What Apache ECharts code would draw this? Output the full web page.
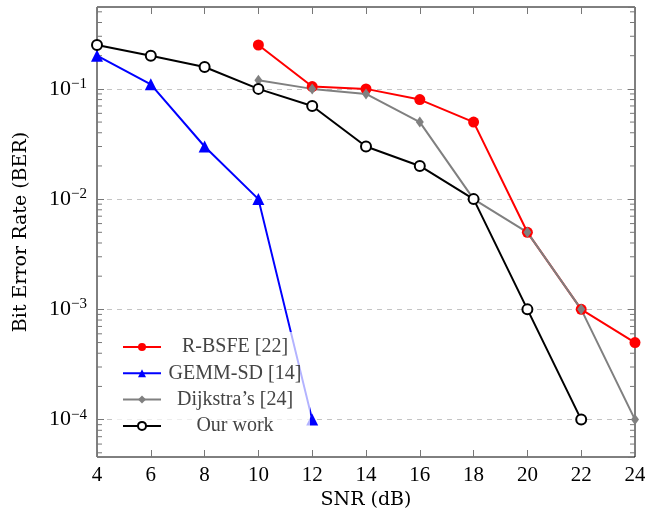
<!DOCTYPE html>
<html>
<head>
<meta charset="utf-8">
<script src="https://cdn.jsdelivr.net/npm/echarts@6/dist/echarts.min.js"></script>
<style>
  html, body { margin: 0; padding: 0; background: #fff; }
  #chart { width: 645px; height: 514px; }
</style>
</head>
<body>
<div id="chart"></div>
<script>
// SNR sweep (dB) and bit error rates per scheme
const snrTicks = [4, 6, 8, 10, 12, 14, 16, 18, 20, 22, 24];

const rbsfeSnr = [10, 12, 14, 16, 18, 20, 22, 24];
const rbsfeBer = [0.25, 0.105, 0.1, 0.08, 0.05, 0.005, 0.001, 0.0005];

const gemmSnr = [4, 6, 8, 10, 12];
const gemmBer = [0.2, 0.11, 0.03, 0.01, 0.0001];

const dijkstraSnr = [10, 12, 14, 16, 18, 20, 22, 24];
const dijkstraBer = [0.12, 0.1, 0.09, 0.05, 0.01, 0.005, 0.001, 0.0001];

const oursSnr = [4, 6, 8, 10, 12, 14, 16, 18, 20, 22];
const oursBer = [0.25, 0.2, 0.158, 0.1, 0.07, 0.03, 0.02, 0.01, 0.001, 0.0001];

const seriesNames = ['R-BSFE [22]', 'GEMM-SD [14]', "Dijkstra\u2019s [24]", 'Our work'];

// axis range
const xMin = 4, xMax = 24;
const yMin = 4.58e-5, yMax = 0.553;

// log minor tick values (2..9 in each decade inside the range)
const minorTickValues = [];
for (let d = -5; d <= 0; d++) {
  for (let m = 2; m <= 9; m++) {
    const v = m * Math.pow(10, d);
    if (v > yMin && v < yMax) minorTickValues.push(v);
  }
}

const FONT = '"Liberation Serif", "DejaVu Serif", serif';
const TITLE_FONT = '"DejaVu Serif", "Liberation Serif", serif';
const zip = (xs, ys) => xs.map((x, i) => [x, ys[i]]);

function logLabel(v) {
  const e = Math.round(Math.log10(v));
  const s = String(e).replace('-', '\u2212');
  return '{b|10}{s|' + s + '}';
}

const chart = echarts.init(document.getElementById('chart'), null, { renderer: 'canvas' });

const xAxisBase = {
  type: 'value', min: xMin, max: xMax, interval: 2,
  axisLine: { show: false },
  axisTick: { show: true, inside: true, length: 7, lineStyle: { color: '#777', width: 1 } },
  splitLine: { show: false }
};
const yAxisBase = {
  type: 'log', logBase: 10, min: yMin, max: yMax,
  axisLine: { show: false },
  axisTick: { show: true, inside: true, length: 7, lineStyle: { color: '#777', width: 1 } }
};

const option = {
  backgroundColor: '#fff',
  animation: false,
  grid: {
    left: 97, right: 10, top: 7, bottom: 57,
    outerBoundsMode: 'none', containLabel: false,
    show: true, borderColor: '#000', borderWidth: 1, backgroundColor: 'transparent'
  },
  xAxis: [
    Object.assign({}, xAxisBase, {
      position: 'bottom',
      name: 'SNR (dB)', nameLocation: 'middle', nameGap: 34,
      nameTextStyle: { fontFamily: TITLE_FONT, fontSize: 19, color: '#000' },
      axisLabel: { fontFamily: FONT, fontSize: 21, color: '#000', margin: 8 }
    }),
    Object.assign({}, xAxisBase, { position: 'top', axisLabel: { show: false } })
  ],
  yAxis: [
    Object.assign({}, yAxisBase, {
      position: 'left',
      name: 'Bit Error Rate (BER)', nameLocation: 'middle', nameGap: 66, nameRotate: 90,
      nameTextStyle: { fontFamily: TITLE_FONT, fontSize: 19, color: '#000' },
      axisLabel: {
        showMinLabel: false, showMaxLabel: false, margin: 10,
        formatter: logLabel,
        rich: {
          b: { fontFamily: FONT, fontSize: 22, color: '#000' },
          s: { fontFamily: FONT, fontSize: 15, color: '#000', verticalAlign: 'bottom', padding: [0, 0, 10, 0] }
        }
      },
      splitLine: {
        show: true, showMinLine: false, showMaxLine: false,
        lineStyle: { color: '#c4c4c4', type: [5, 5], width: 1 }
      }
    }),
    Object.assign({}, yAxisBase, {
      position: 'right', axisLabel: { show: false }, splitLine: { show: false }
    })
  ],
  legend: {
    data: seriesNames,
    orient: 'vertical',
    left: 117, top: 332,
    padding: [5, 6, 5, 5],
    itemGap: 6.3,
    itemWidth: 38, itemHeight: 10,
    backgroundColor: 'rgba(255,255,255,0.7)',
    borderWidth: 0,
    formatter: name => '{t|' + name + '}',
    textStyle: {
      rich: {
        t: { width: 138, align: 'center', fontFamily: FONT, fontSize: 20, lineHeight: 21, color: '#444' }
      }
    }
  },
  series: [
    {
      type: 'custom', name: 'minor-ticks', silent: true, z: 1,
      xAxisIndex: 0, yAxisIndex: 0,
      data: minorTickValues.map(v => [xMin, v]),
      renderItem: function (params, api) {
        const v = api.value(1);
        const l = api.coord([xMin, v]);
        const r = api.coord([xMax, v]);
        const style = { stroke: '#777', lineWidth: 1 };
        return {
          type: 'group',
          children: [
            { type: 'line', shape: { x1: l[0], y1: l[1], x2: l[0] + 5, y2: l[1] }, style: style },
            { type: 'line', shape: { x1: r[0] - 5, y1: r[1], x2: r[0], y2: r[1] }, style: style }
          ]
        };
      }
    },
    {
      name: seriesNames[0], type: 'line', data: zip(rbsfeSnr, rbsfeBer),
      color: '#ff0000', lineStyle: { width: 2, color: '#ff0000' },
      symbol: 'circle', symbolSize: 11, itemStyle: { color: '#ff0000' }, z: 3
    },
    {
      name: seriesNames[1], type: 'line', data: zip(gemmSnr, gemmBer),
      color: '#0000ff', lineStyle: { width: 2, color: '#0000ff' },
      symbol: 'triangle', symbolSize: 12, itemStyle: { color: '#0000ff' }, z: 3
    },
    {
      name: seriesNames[2], type: 'line', data: zip(dijkstraSnr, dijkstraBer),
      color: '#808080', lineStyle: { width: 2, color: '#808080' },
      symbol: 'diamond', symbolSize: [8, 11], itemStyle: { color: '#808080' }, z: 3
    },
    {
      name: seriesNames[3], type: 'line', data: zip(oursSnr, oursBer),
      color: '#000', lineStyle: { width: 2, color: '#000' },
      symbol: 'circle', symbolSize: 10,
      itemStyle: { color: '#fff', borderColor: '#000', borderWidth: 2 }, z: 3
    }
  ]
};

chart.setOption(option);
</script>
</body>
</html>
